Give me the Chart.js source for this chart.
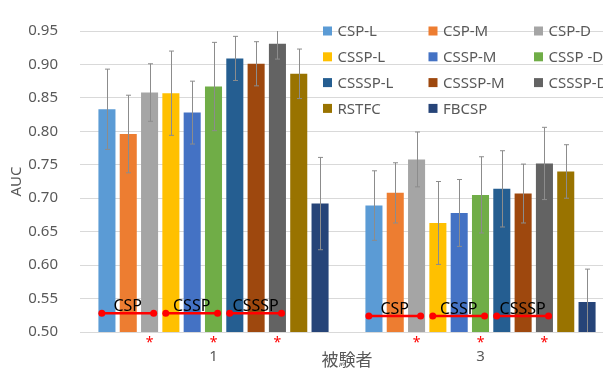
<!DOCTYPE html>
<html>
<head>
<meta charset="utf-8">
<script src="https://cdn.jsdelivr.net/npm/chart.js@4/dist/chart.umd.min.js"></script>
<style>
  html, body { margin: 0; padding: 0; background: #fff; overflow: hidden; }
  #wrap { width: 603px; height: 372px; overflow: hidden; }
  canvas { display: block; }
</style>
</head>
<body>
<div id="wrap"><canvas id="c" width="614" height="372"></canvas></div>
<script>
// Subjects on the x axis
const subjects = ['1', '3'];

// Methods (one bar series each)
const methods = ['CSP-L', 'CSP-M', 'CSP-D', 'CSSP-L', 'CSSP-M', 'CSSP -D',
                 'CSSSP-L', 'CSSSP-M', 'CSSSP-D', 'RSTFC', 'FBCSP'];

// Mean AUC per method
const aucSubject1 = [0.833, 0.796, 0.858, 0.857, 0.828, 0.867, 0.909, 0.901, 0.931, 0.886, 0.692];
const aucSubject3 = [0.689, 0.708, 0.758, 0.663, 0.678, 0.705, 0.714, 0.707, 0.752, 0.740, 0.545];

// Standard deviation per method
const sdSubject1 = [0.060, 0.058, 0.043, 0.063, 0.047, 0.066, 0.033, 0.033, 0.023, 0.037, 0.069];
const sdSubject3 = [0.052, 0.045, 0.041, 0.062, 0.050, 0.057, 0.057, 0.044, 0.054, 0.040, 0.049];

// Significance brackets: name, first and last method index in each family
const sigNames = ['CSP', 'CSSP', 'CSSSP'];
const sigFirst = [0, 3, 6];
const sigLast  = [2, 5, 8];
// Bracket level (AUC) per subject
const sigLevel = [0.528, 0.524];

const palette = ['#5B9BD5', '#ED7D31', '#A5A5A5', '#FFC000', '#4472C4', '#70AD47',
                 '#255E91', '#9E480E', '#636363', '#997300', '#264478'];

const FONT = "'Noto Sans', 'Noto Sans CJK JP', sans-serif";
const TEXT_GRAY = '#595959';

const sdBySubject = [sdSubject1, sdSubject3];

const datasets = methods.map((m, i) => ({
  label: m,
  data: [aucSubject1[i], aucSubject3[i]],
  backgroundColor: palette[i],
  borderWidth: 0,
  categoryPercentage: 0.878,
  barPercentage: 0.8
}));

// Error bars drawn through the y scale
const errorBars = {
  id: 'errorBars',
  afterDatasetsDraw(chart) {
    const { ctx, chartArea, scales: { y } } = chart;
    ctx.save();
    ctx.beginPath();
    ctx.rect(chartArea.left, chartArea.top, chartArea.right - chartArea.left, chartArea.bottom - chartArea.top);
    ctx.clip();
    ctx.strokeStyle = '#8C8C8C';
    ctx.lineWidth = 1;
    chart.data.datasets.forEach((ds, i) => {
      const meta = chart.getDatasetMeta(i);
      meta.data.forEach((bar, j) => {
        const v = ds.data[j];
        const sd = sdBySubject[j][i];
        const x = Math.round(bar.x) + 0.5;
        const yt = y.getPixelForValue(v + sd);
        const yb = y.getPixelForValue(v - sd);
        ctx.beginPath();
        ctx.moveTo(x, yt); ctx.lineTo(x, yb);
        ctx.moveTo(x - 2.5, yt); ctx.lineTo(x + 2.5, yt);
        ctx.moveTo(x - 2.5, yb); ctx.lineTo(x + 2.5, yb);
        ctx.stroke();
      });
    });
    ctx.restore();
  }
};

// Red significance brackets with labels and asterisks
const significance = {
  id: 'significance',
  afterDraw(chart) {
    const { ctx, chartArea, scales: { y } } = chart;
    ctx.save();
    subjects.forEach((s, j) => {
      const yy = y.getPixelForValue(sigLevel[j]);
      sigNames.forEach((name, k) => {
        const a = chart.getDatasetMeta(sigFirst[k]).data[j];
        const b = chart.getDatasetMeta(sigLast[k]).data[j];
        const x1 = a.x - a.width * 0.3;
        const x2 = b.x + b.width * 0.24;
        ctx.strokeStyle = '#FF0000';
        ctx.fillStyle = '#FF0000';
        ctx.lineWidth = 2.5;
        ctx.beginPath();
        ctx.moveTo(x1, yy); ctx.lineTo(x2, yy);
        ctx.stroke();
        [x1, x2].forEach(px => {
          ctx.beginPath();
          ctx.arc(px, yy, 3.5, 0, Math.PI * 2);
          ctx.fill();
        });
        ctx.fillStyle = '#000';
        ctx.font = '16px ' + FONT;
        ctx.textAlign = 'center';
        ctx.textBaseline = 'alphabetic';
        ctx.fillText(name, (x1 + x2) / 2, yy - 2);
        ctx.fillStyle = '#FF0000';
        ctx.font = '14px ' + FONT;
        ctx.fillText('*', b.x, chartArea.bottom + 15);
      });
    });
    ctx.restore();
  }
};

// Three-column legend inside the plot
const gridLegend = {
  id: 'gridLegend',
  afterDraw(chart, args, opts) {
    const { ctx } = chart;
    ctx.save();
    ctx.font = '15px ' + FONT;
    ctx.textAlign = 'left';
    ctx.textBaseline = 'middle';
    methods.forEach((m, i) => {
      const col = i % opts.columns;
      const row = Math.floor(i / opts.columns);
      const x = opts.x + col * opts.colWidth;
      const yc = opts.y + row * opts.rowHeight;
      ctx.fillStyle = palette[i];
      ctx.fillRect(x, yc - opts.box / 2, opts.box, opts.box);
      ctx.fillStyle = TEXT_GRAY;
      ctx.fillText(m, x + opts.box + 5.5, yc + 1);
    });
    ctx.restore();
  }
};

new Chart(document.getElementById('c'), {
  type: 'bar',
  data: { labels: subjects, datasets },
  plugins: [errorBars, significance, gridLegend],
  options: {
    responsive: false,
    devicePixelRatio: 1,
    animation: false,
    layout: { padding: { top: 16, left: 0, right: 0, bottom: 0 } },
    plugins: {
      legend: { display: false },
      tooltip: { enabled: false },
      gridLegend: { x: 323, y: 31, columns: 3, colWidth: 105.5, rowHeight: 25.8, box: 9 }
    },
    scales: {
      x: {
        grid: { display: false, drawTicks: false },
        border: { display: false },
        ticks: { padding: 16, color: TEXT_GRAY, font: { family: FONT, size: 15 } },
        title: { display: true, text: '被験者', color: TEXT_GRAY, font: { family: FONT, size: 17 }, padding: { top: 0, bottom: 0.5 } },
        afterFit(scale) { scale.height = 40; }
      },
      y: {
        min: 0.5,
        max: 0.95,
        ticks: {
          stepSize: 0.05,
          padding: 22,
          color: TEXT_GRAY,
          font: { family: FONT, size: 15 },
          callback: v => v.toFixed(2)
        },
        grid: { color: '#D9D9D9', drawTicks: false },
        border: { display: false },
        title: { display: true, text: 'AUC', color: TEXT_GRAY, font: { family: FONT, size: 15 }, padding: { top: 8, bottom: 0 } },
        afterFit(scale) { scale.width = 80; }
      }
    }
  }
});
</script>
</body>
</html>
